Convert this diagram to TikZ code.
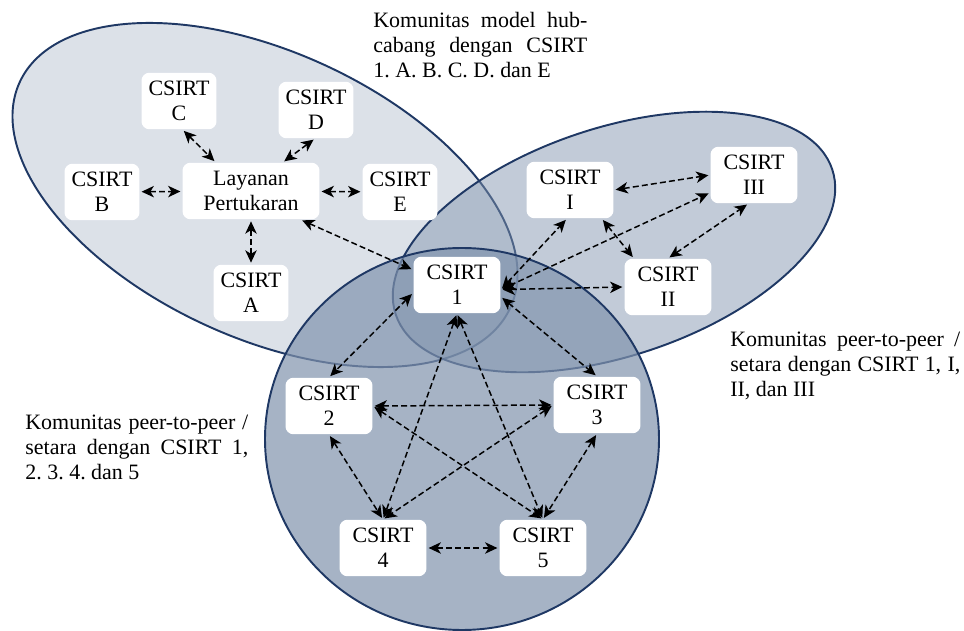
\documentclass[tikz,border=0pt]{standalone}
\usepackage{fontspec}
\setmainfont{Liberation Serif}
\usetikzlibrary{arrows.meta}
\definecolor{areafill}{RGB}{128,147,173}
\definecolor{arealine}{RGB}{31,56,100}
\frenchspacing
\begin{document}
\begin{tikzpicture}[x=0.02cm,y=-0.02cm,
		area/.style={draw=arealine,line width=1.1pt,fill=areafill},
		csirtbox/.style={fill=white,rounded corners=4.5pt,minimum width=1.5cm,minimum height=1.13cm,inner sep=0pt,align=center,font=\fontsize{12.5}{14.4}\selectfont},
		widebox/.style={csirtbox,minimum width=1.74cm},
		duplex/.style={dash pattern=on 3.4pt off 1.8pt,line width=0.85pt,{Stealth[length=7pt,width=6.5pt,inset=2pt]}-{Stealth[length=7pt,width=6.5pt,inset=2pt]},shorten <=1pt,shorten >=1pt},
		commtext/.style={anchor=base west,inner sep=0pt}]
			\useasboundingbox (0,0) rectangle (964,631);
			\draw[area,fill opacity=0.28,rotate around={-24.7:(265,195)}] (265,195) ellipse [x radius=270, y radius=143];
			\draw[area,fill opacity=0.48,rotate around={18.4:(614,242)}] (614,242) ellipse [x radius=230, y radius=114];
			\draw[area,fill opacity=0.7] (462,439) ellipse [x radius=197, y radius=191];
			\node[commtext] (hubnote) at (373,28) {\parbox[t]{4.28cm}{\tolerance=9999\fontsize{12.5}{14.2}\selectfont Komunitas model hub-\linebreak cabang dengan CSIRT\linebreak 1. A. B. C. D. dan E}};
			\node[commtext] (peernote) at (25,430) {\parbox[t]{4.46cm}{\tolerance=9999\fontsize{12.5}{14.2}\selectfont Komunitas peer-to-peer /\linebreak setara dengan CSIRT 1,\linebreak 2. 3. 4. dan 5}};
			\node[commtext] (romannote) at (730,347) {\parbox[t]{4.6cm}{\tolerance=9999\fontsize{12.5}{14.2}\selectfont Komunitas peer-to-peer /\linebreak setara dengan CSIRT 1, I,\linebreak II, dan III}};
			\node[csirtbox,minimum width=2.74cm] (hub) at (251,191) {Layanan\\Pertukaran};
			\node[csirtbox] (cA) at (251,293) {CSIRT\\A};
			\node[csirtbox] (cB) at (102,192) {CSIRT\\B};
			\node[csirtbox] (cC) at (179,101) {CSIRT\\C};
			\node[csirtbox] (cD) at (316,110) {CSIRT\\D};
			\node[csirtbox] (cE) at (400,192) {CSIRT\\E};
			\node[widebox] (c1) at (457,285) {CSIRT\\1};
			\node[widebox] (c2) at (329,406) {CSIRT\\2};
			\node[widebox] (c3) at (597,405) {CSIRT\\3};
			\node[widebox] (c4) at (383,548) {CSIRT\\4};
			\node[widebox] (c5) at (543,548) {CSIRT\\5};
			\node[widebox] (cI) at (570,190) {CSIRT\\I};
			\node[widebox] (cII) at (668,287) {CSIRT\\II};
			\node[widebox] (cIII) at (754,175) {CSIRT\\III};
			\draw[duplex] (cC.-83) -- (hub.141);
			\draw[duplex] (cD.-92) -- (hub.42);
			\draw[duplex] (cB) -- (hub);
			\draw[duplex] (hub) -- (cE);
			\draw[duplex] (hub) -- (cA);
			\draw[duplex] (hub.-30) -- (c1.161);
			\draw[duplex] (c1.-6) -- (cI.-96);
			\draw[duplex] (c1.-6) -- (cIII.-158);
			\draw[duplex] (c1.-6) -- (cII.west);
			\draw[duplex] (cI.east) -- (cIII.west);
			\draw[duplex] (cI.-42) -- (cII.140);
			\draw[duplex] (cII.north) -- (cIII.-101);
			\draw[duplex] (c1.-170) -- (c2.north);
			\draw[duplex] (c1.-15) -- (c3.north);
			\draw[duplex] (c1.south) -- (c4.north);
			\draw[duplex] (c1.south) -- (c5.north);
			\draw[duplex] (c2.east) -- (c3.west);
			\draw[duplex] (c2.south) -- (c4.north);
			\draw[duplex] (c2.east) -- (c5.north);
			\draw[duplex] (c3.west) -- (c4.north);
			\draw[duplex] (c3.south) -- (c5.north);
			\draw[duplex] (c4) -- (c5);
		\end{tikzpicture}
\end{document}
